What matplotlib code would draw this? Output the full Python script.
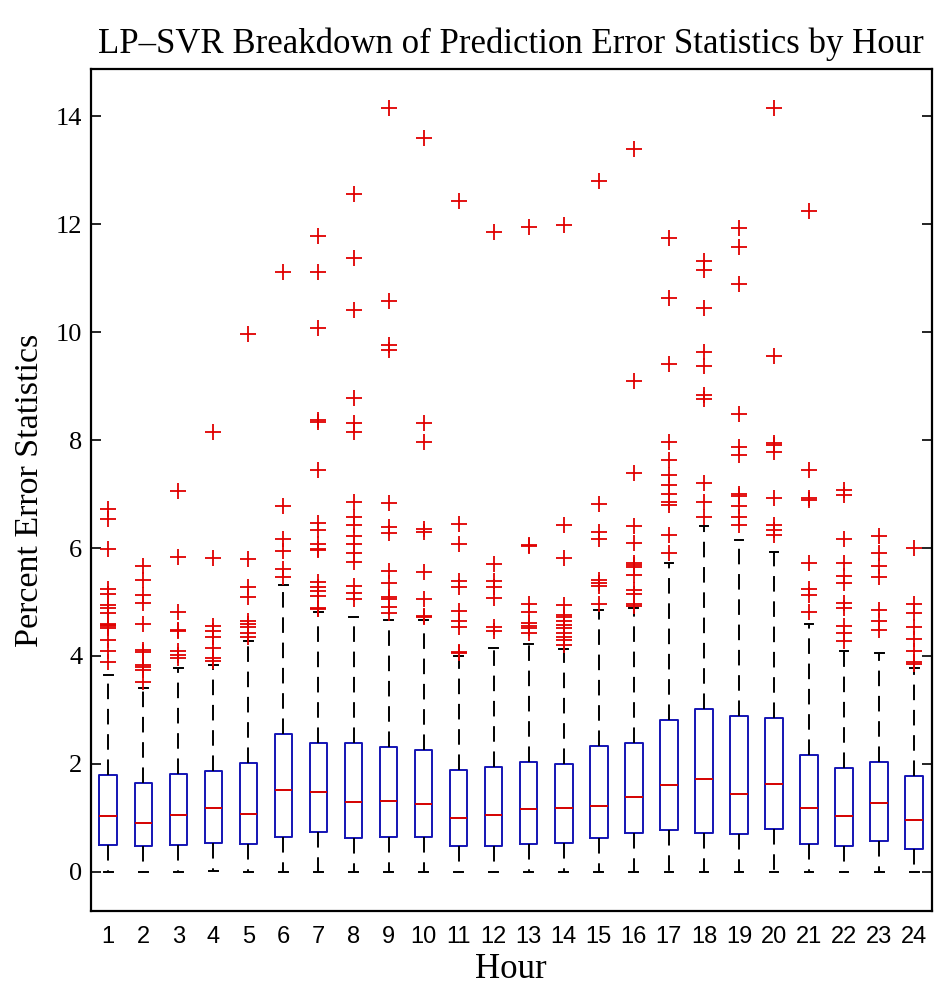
import matplotlib
matplotlib.use('Agg')
import matplotlib.pyplot as plt

SERIF = ['Liberation Serif', 'DejaVu Serif']
SANS = ['Liberation Sans', 'DejaVu Sans']

hours = list(range(1, 25))

medians = [1.03, 0.90, 1.06, 1.19, 1.07, 1.51, 1.47, 1.30, 1.32, 1.26, 0.99, 1.06,
           1.17, 1.19, 1.22, 1.39, 1.60, 1.72, 1.45, 1.62, 1.19, 1.04, 1.27, 0.96]
q1 = [0.49, 0.47, 0.50, 0.54, 0.51, 0.65, 0.73, 0.62, 0.65, 0.64, 0.48, 0.48,
      0.52, 0.54, 0.63, 0.71, 0.77, 0.72, 0.70, 0.79, 0.52, 0.48, 0.57, 0.43]
q3 = [1.80, 1.65, 1.81, 1.87, 2.02, 2.55, 2.38, 2.39, 2.31, 2.26, 1.89, 1.94,
      2.04, 2.00, 2.33, 2.38, 2.81, 3.02, 2.89, 2.85, 2.17, 1.92, 2.04, 1.77]
whisker_low = [0.0, 0.0, 0.0, 0.02, 0.0, 0.0, 0.0, 0.0, 0.0, 0.0, 0.0, 0.0,
               0.0, 0.0, 0.0, 0.0, 0.0, 0.0, 0.0, 0.0, 0.0, 0.0, 0.0, 0.0]
whisker_high = [3.64, 3.40, 3.77, 3.83, 4.27, 5.31, 4.82, 4.73, 4.67, 4.67, 4.00, 4.14,
                4.23, 4.12, 4.85, 4.88, 5.73, 6.41, 6.14, 5.92, 4.59, 4.09, 4.06, 3.77]

outliers = [
    [6.72, 6.53, 5.98, 5.25, 5.15, 4.94, 4.88, 4.79, 4.60, 4.57, 4.55, 4.52, 4.30, 4.10, 3.88],
    [5.67, 5.41, 5.13, 4.99, 4.59, 4.11, 4.08, 3.83, 3.80, 3.74, 3.52],
    [7.06, 5.84, 4.81, 4.48, 4.46, 4.10, 4.02, 3.96],
    [8.15, 5.81, 4.56, 4.47, 4.36, 4.14, 3.96, 3.91],
    [9.96, 5.79, 5.27, 5.09, 4.65, 4.60, 4.54, 4.42, 4.36],
    [11.12, 6.78, 6.16, 5.95, 5.62, 5.46],
    [11.78, 11.11, 10.07, 8.37, 8.34, 7.44, 6.47, 6.33, 6.07, 5.99, 5.96, 5.38, 5.27, 5.21, 5.11, 4.88, 4.87],
    [12.57, 11.38, 10.41, 8.79, 8.31, 8.15, 6.86, 6.57, 6.43, 6.22, 6.07, 5.90, 5.75, 5.30, 5.16, 5.05],
    [14.16, 10.57, 9.77, 9.67, 6.84, 6.39, 6.28, 5.58, 5.36, 5.10, 5.05, 4.91, 4.80],
    [13.60, 8.32, 7.97, 6.36, 6.30, 5.55, 5.05, 4.74, 4.72],
    [12.43, 6.44, 6.07, 5.39, 5.28, 4.83, 4.65, 4.54, 4.07, 4.05],
    [11.86, 5.70, 5.39, 5.27, 5.07, 4.53, 4.47],
    [11.95, 6.06, 6.04, 4.96, 4.82, 4.62, 4.56, 4.52, 4.42],
    [11.98, 6.43, 5.81, 4.94, 4.76, 4.72, 4.65, 4.57, 4.52, 4.43, 4.35, 4.29, 4.21],
    [12.80, 6.81, 6.30, 6.16, 5.41, 5.35, 5.30, 4.96],
    [13.39, 9.09, 7.40, 6.41, 6.09, 5.73, 5.68, 5.64, 5.50, 5.23, 5.15, 4.96, 4.93],
    [11.75, 10.64, 9.41, 7.97, 7.63, 7.36, 7.17, 7.01, 6.86, 6.80, 6.25, 5.91],
    [11.32, 11.15, 10.44, 9.64, 9.37, 8.83, 8.77, 7.21, 6.86, 6.57],
    [11.94, 11.58, 10.89, 8.48, 7.88, 7.72, 7.01, 6.97, 6.78, 6.57, 6.42],
    [14.16, 9.56, 7.95, 7.91, 7.78, 6.93, 6.42, 6.33, 6.25],
    [12.25, 7.44, 6.92, 6.89, 5.73, 5.25, 5.13, 4.81],
    [7.07, 6.98, 6.16, 5.73, 5.48, 5.35, 4.99, 4.88, 4.56, 4.43, 4.27],
    [6.22, 5.91, 5.67, 5.47, 4.85, 4.65, 4.48],
    [6.01, 4.96, 4.79, 4.53, 4.31, 4.10, 3.88, 3.86],
]

yticks = [0, 2, 4, 6, 8, 10, 12, 14]

stats = []
for i, h in enumerate(hours):
    stats.append({
        'label': str(h),
        'med': medians[i],
        'q1': q1[i],
        'q3': q3[i],
        'whislo': whisker_low[i],
        'whishi': whisker_high[i],
        'fliers': outliers[i],
    })

fig = plt.figure(figsize=(9.41, 9.92), dpi=100)
ax = fig.add_axes([0.0964, 0.082, 0.8937, 0.848])

ax.bxp(stats, positions=hours, widths=0.5, capwidths=0.25,
       boxprops=dict(color='#1414b4', linewidth=1.4),
       medianprops=dict(color='#d40000', linewidth=1.4),
       whiskerprops=dict(color='black', linewidth=1.4, linestyle=(0, (8, 5))),
       capprops=dict(color='black', linewidth=1.4),
       flierprops=dict(marker='+', markeredgecolor='#e00000', markersize=11,
                       markeredgewidth=1.3, linestyle='none'))

ax.set_xlim(0.5, 24.5)
ax.set_ylim(-0.72, 14.87)
ax.set_yticks(yticks)
ax.set_yticklabels([str(t) for t in yticks], family=SERIF, fontsize=19)
ax.set_xticks(hours)
ax.set_xticklabels([str(h) for h in hours], family=SANS, fontsize=17)

ax.tick_params(axis='y', direction='in', length=7, width=1.2, right=True, pad=6)
ax.tick_params(axis='x', length=0, pad=11)
for side in ax.spines.values():
    side.set_linewidth(1.6)

ax.set_title('LP\u2013SVR Breakdown of Prediction Error Statistics by Hour',
             family=SERIF, fontsize=25, pad=12)
ax.set_xlabel('Hour', family=SERIF, fontsize=25, labelpad=4)
ax.set_ylabel('Percent Error Statistics', family=SERIF, fontsize=24.5, labelpad=8)

plt.savefig('out.png', dpi=100)
